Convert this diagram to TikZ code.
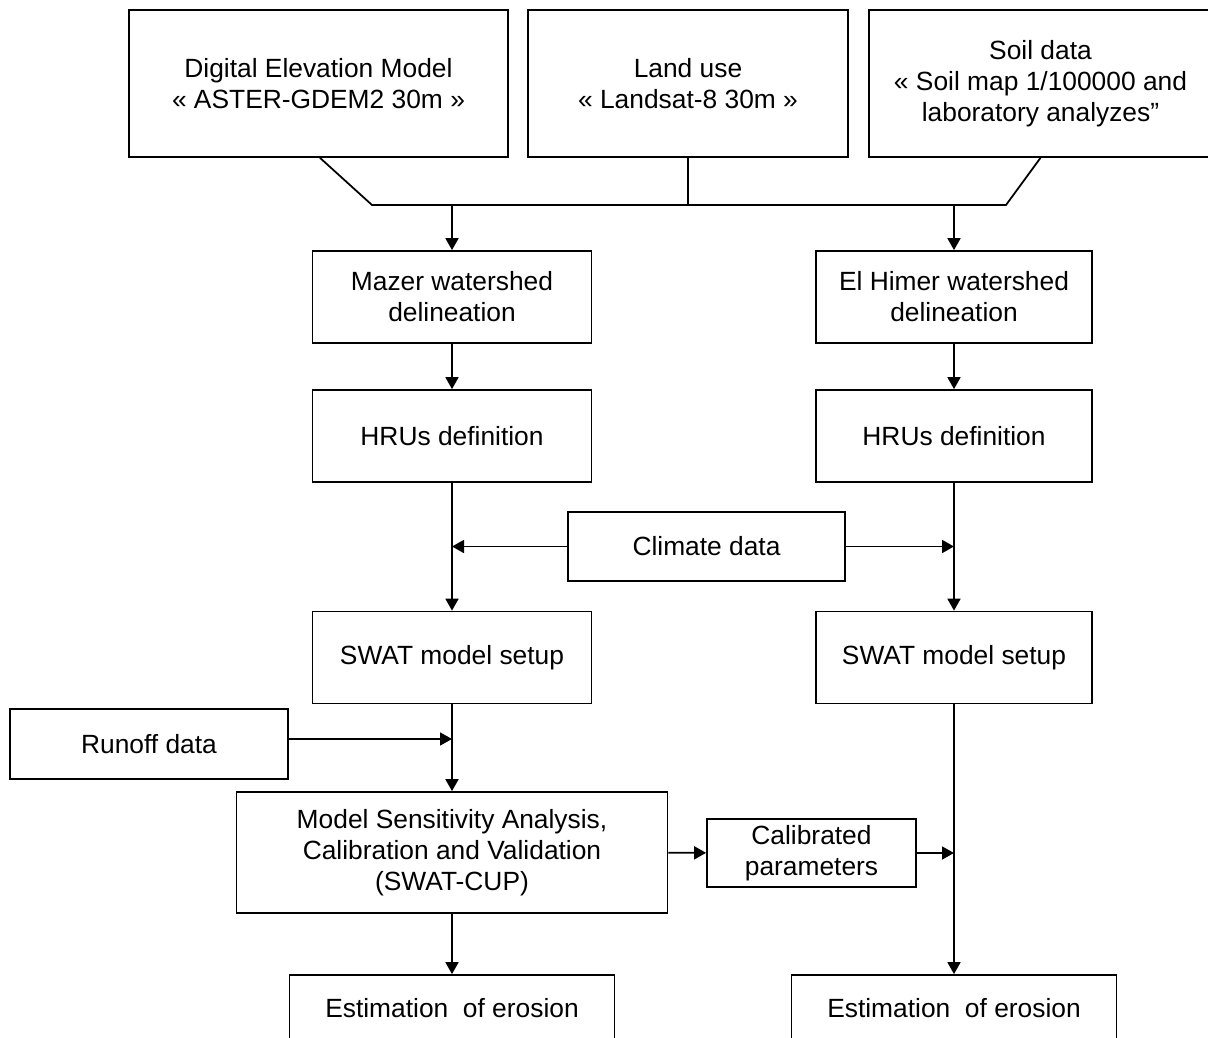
\documentclass[tikz,border=0pt]{standalone}
\usepackage{fontspec}
\setmainfont{Liberation Sans}
\usetikzlibrary{arrows.meta}

\begin{document}
\begin{tikzpicture}[x=0.02cm,y=-0.02cm,line width=1pt,
  box/.style={draw,align=center,inner sep=0pt,font=\fontsize{15pt}{17.6pt}\selectfont},
  arr/.style={-{Triangle[length=0.24cm,width=0.26cm]}}]
\useasboundingbox (0,0) rectangle (1208,1038);

\node[box,minimum width=7.58cm,minimum height=2.94cm] (dem) at (318.5,83.5) {Digital Elevation Model\\« ASTER-GDEM2 30m »};
\node[box,minimum width=6.4cm,minimum height=2.94cm] (land) at (688,83.5) {Land use\\« Landsat-8 30m »};
\node[box,minimum width=6.86cm,minimum height=2.94cm] (soil) at (1040.5,83.5) {Soil data\\« Soil map 1/100000 and\\laboratory analyzes”};

\node[box,minimum width=5.58cm,minimum height=1.84cm] (mazer) at (452,297) {Mazer watershed\\delineation};
\node[box,minimum width=5.52cm,minimum height=1.84cm] (himer) at (954,297) {El Himer watershed\\delineation};
\node[box,minimum width=5.58cm,minimum height=1.84cm] (hruL) at (452,436) {HRUs definition};
\node[box,minimum width=5.52cm,minimum height=1.84cm] (hruR) at (954,436) {HRUs definition};
\node[box,minimum width=5.54cm,minimum height=1.38cm] (climate) at (706.5,546.5) {Climate data};
\node[box,minimum width=5.58cm,minimum height=1.84cm] (swatL) at (452,657.5) {SWAT model setup};
\node[box,minimum width=5.52cm,minimum height=1.84cm] (swatR) at (954,657.5) {SWAT model setup};
\node[box,minimum width=5.56cm,minimum height=1.4cm] (runoff) at (149,744) {Runoff data};
\node[box,minimum width=8.62cm,minimum height=2.42cm] (model) at (452,852.5) {Model Sensitivity Analysis,\\Calibration and Validation\\(SWAT-CUP)};
\node[box,minimum width=4.18cm,minimum height=1.36cm] (calib) at (811.5,853) {Calibrated\\parameters};
\node[box,minimum width=6.5cm,minimum height=1.34cm] (estL) at (452,1008.5) {Estimation \ of erosion};
\node[box,minimum width=6.5cm,minimum height=1.34cm] (estR) at (954,1008.5) {Estimation \ of erosion};

\coordinate (jl) at (372,205);
\coordinate (jr) at (1006,205);
\draw ([xshift=0.03cm]dem.south) -- (jl) -- (jr) -- (soil.south);
\draw (land.south) -- (land.south |- jl);
\draw[arr] (mazer.north |- jl) -- (mazer.north);
\draw[arr] (himer.north |- jl) -- (himer.north);

\draw[arr] (mazer) -- (hruL);
\draw[arr] (himer) -- (hruR);
\draw[arr] (hruL) -- (swatL);
\draw[arr] (hruR) -- (swatR);
\draw[arr] (climate.west) -- (climate.west -| hruL.south);
\draw[arr] (climate.east) -- (climate.east -| hruR.south);

\draw[arr] (swatL) -- (model);
\draw[arr] ([yshift=0.1cm]runoff.east) -- ([yshift=0.1cm]runoff.east -| swatL.south);
\draw[arr] (model) -- (calib);
\draw[arr] (calib.east) -- (calib.east -| swatR.south);
\draw[arr] (swatR) -- (estR);
\draw[arr] (model) -- (estL);

\end{tikzpicture}
\end{document}
